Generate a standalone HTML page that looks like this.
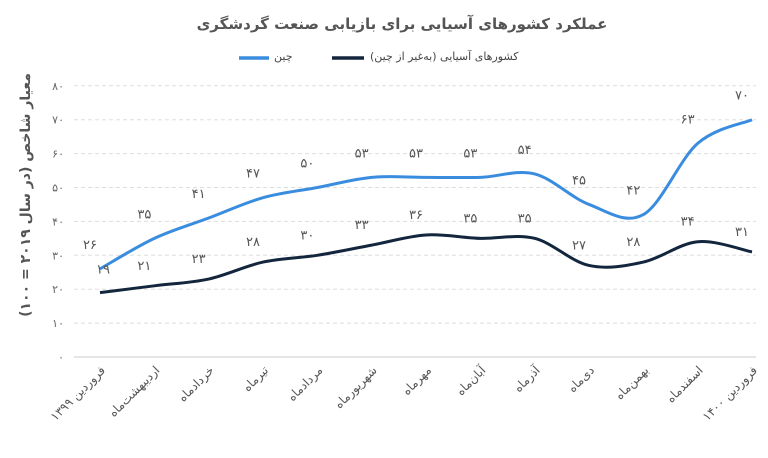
<!DOCTYPE html>
<html><head><meta charset="utf-8">
<style>
body{margin:0;background:#fff;width:768px;height:458px;overflow:hidden;font-family:"DejaVu Sans","Liberation Sans",sans-serif;position:relative;}
svg text{font-family:"DejaVu Sans","Liberation Sans",sans-serif;}
.lg{position:absolute;top:50px;font-size:11px;color:#444;white-space:nowrap;line-height:14px;}
</style></head>
<body>
<svg id="chart" width="768" height="458" xmlns="http://www.w3.org/2000/svg" style="position:absolute;left:0;top:0">
<text x="402" y="29" text-anchor="middle" font-size="15" font-weight="bold" fill="#555">عملکرد کشورهای آسیایی برای بازیابی صنعت گردشگری</text>
<line x1="239" y1="58" x2="269" y2="58" stroke="#3a8dde" stroke-width="3.5"/>
<line x1="332" y1="58" x2="364" y2="58" stroke="#13263d" stroke-width="3.5"/>
<text transform="translate(30,195) rotate(-90)" text-anchor="middle" font-size="14" font-weight="bold" fill="#555">معیار شاخص (در سال ۲۰۱۹ = ۱۰۰)</text>
<g id="grid"></g><g id="lines"></g><g id="labels"></g>
</svg>
<div class="lg" dir="rtl" style="left:274px">چین</div>
<div class="lg" dir="rtl" style="left:370px">کشورهای آسیایی (به‌غیر از چین)</div>
<script>
const categories=["فروردین ۱۳۹۹","اردیبهشت‌ماه","خردادماه","تیرماه","مردادماه","شهریورماه","مهرماه","آبان‌ماه","آذرماه","دی‌ماه","بهمن‌ماه","اسفندماه","فروردین ۱۴۰۰"];
const chinaValues=[26,35,41,47,50,53,53,53,54,45,42,63,70];
const asiaValues=[19,21,23,28,30,33,36,35,35,27,28,34,31];
const yTicks=[0,10,20,30,40,50,60,70,80];
const NS="http://www.w3.org/2000/svg";
const fa=n=>String(n).replace(/\d/g,d=>"۰۱۲۳۴۵۶۷۸۹"[d]);
const x0=100,x1=752,yBase=357,yPer=3.39;
const X=i=>x0+i*(x1-x0)/(categories.length-1);
const Y=v=>yBase-v*yPer;
function mk(tag,attrs,parent){const e=document.createElementNS(NS,tag);for(const k in attrs)e.setAttribute(k,attrs[k]);parent.appendChild(e);return e;}
const grid=document.getElementById('grid'),lines=document.getElementById('lines'),labels=document.getElementById('labels');
yTicks.forEach(t=>{
 const l=mk('line',{x1:74,x2:756,y1:Y(t),y2:Y(t),stroke:t===0?'#ccc':'#ddd','stroke-width':1,'stroke-dasharray':t===0?'':'4,3'},grid);
 
 
 const tx=mk('text',{x:64,y:Y(t)+4,'font-size':11,fill:'#666','text-anchor':'end'},grid);
 tx.textContent=fa(t);
 
 
});
categories.forEach((c,i)=>{
 const tx=mk('text',{transform:`translate(${X(i)+6},${yBase+14}) rotate(-45)`,'font-size':12,fill:'#555','text-anchor':'end'},labels);
 tx.textContent=c;
 
 
});
function smooth(vals){
 const p=vals.map((v,i)=>[X(i),Y(v)]);let d=`M${p[0][0]},${p[0][1]}`;
 for(let i=0;i<p.length-1;i++){const a=p[i-1]||p[i],b=p[i],c=p[i+1],e=p[i+2]||c;
  d+=` C${b[0]+(c[0]-a[0])/6},${b[1]+(c[1]-a[1])/6} ${c[0]-(e[0]-b[0])/6},${c[1]-(e[1]-b[1])/6} ${c[0]},${c[1]}`;}
 return d;}
const la=mk('path',{d:smooth(asiaValues),fill:'none',stroke:'#13263d','stroke-width':3},lines);


const lc=mk('path',{d:smooth(chinaValues),fill:'none',stroke:'#3a8dde','stroke-width':3},lines);


chinaValues.forEach((v,i)=>{
 const tx=mk('text',{x:X(i)-10,y:Y(v)-20,'font-size':13,fill:'#555','text-anchor':'middle'},labels);
 tx.textContent=fa(v);
 
 
});
asiaValues.forEach((v,i)=>{
 const tx=mk('text',{x:X(i)-10+(i===0?13:0),y:Y(v)-16+(i===0?-3:0),'font-size':13,fill:'#555','text-anchor':'middle'},labels);
 tx.textContent=fa(v);
 
 
});
</script>
</body></html>
